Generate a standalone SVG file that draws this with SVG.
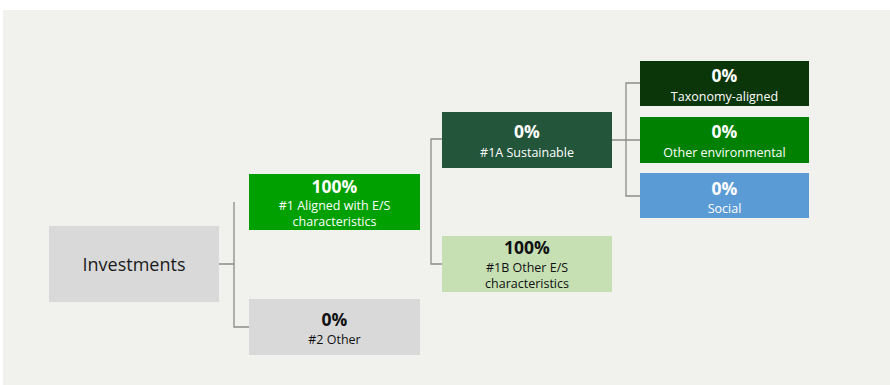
<svg xmlns="http://www.w3.org/2000/svg" width="890" height="385" viewBox="0 0 890 385">
<style>
.pct{font-family:"Open Sans","Liberation Sans",sans-serif;font-size:17.5px;font-weight:bold;text-anchor:middle}
.sub{font-family:"Open Sans","Liberation Sans",sans-serif;font-size:12.5px;text-anchor:middle}
.w{fill:#ffffff}
.k{fill:#111111}
.conn{stroke:#8c8c8c;stroke-width:1.3;fill:none}
</style>
<rect x="0" y="0" width="890" height="385" fill="#ffffff"/>
<rect x="3" y="10" width="887" height="375" fill="#f1f1ed"/>
<g id="connectors">
<path class="conn" d="M219 264H234M234 202V327H249"/>
<path class="conn" d="M442 139H431V264H442"/>
<path class="conn" d="M612 140H640M640 83H626V196H640"/>
</g>
<g id="investments">
<rect x="49" y="226" width="170" height="76" fill="#d9d9d9"/>
<text x="134" y="271" font-family="Open Sans, Liberation Sans, sans-serif" font-size="18" text-anchor="middle" fill="#1a1a1a">Investments</text>
</g>
<g id="n1">
<rect x="249" y="174" width="171" height="56" fill="#00a000"/>
<text class="pct w" x="334.5" y="193">100%</text>
<text class="sub w" x="334.5" y="209.5">#1 Aligned with E/S</text>
<text class="sub w" x="334.5" y="226">characteristics</text>
</g>
<g id="n2">
<rect x="249" y="299" width="171" height="56" fill="#d9d9d9"/>
<text class="pct k" x="334.5" y="326">0%</text>
<text class="sub k" x="334.5" y="344">#2 Other</text>
</g>
<g id="n1a">
<rect x="442" y="112" width="170" height="56" fill="#22553a"/>
<text class="pct w" x="527" y="138">0%</text>
<text class="sub w" x="527" y="157">#1A Sustainable</text>
</g>
<g id="n1b">
<rect x="442" y="236" width="170" height="56" fill="#c6e0b4"/>
<text class="pct k" x="527" y="254">100%</text>
<text class="sub k" x="527" y="271.5">#1B Other E/S</text>
<text class="sub k" x="527" y="288">characteristics</text>
</g>
<g id="taxonomy">
<rect x="640" y="61" width="169" height="45" fill="#0a360a"/>
<text class="pct w" x="724.5" y="82">0%</text>
<text class="sub w" x="724.5" y="101">Taxonomy-aligned</text>
</g>
<g id="otherenv">
<rect x="640" y="117" width="169" height="46" fill="#008000"/>
<text class="pct w" x="724.5" y="138">0%</text>
<text class="sub w" x="724.5" y="157">Other environmental</text>
</g>
<g id="social">
<rect x="640" y="173" width="169" height="45" fill="#5b9bd5"/>
<text class="pct w" x="724.5" y="195">0%</text>
<text class="sub w" x="724.5" y="213">Social</text>
</g>
</svg>
